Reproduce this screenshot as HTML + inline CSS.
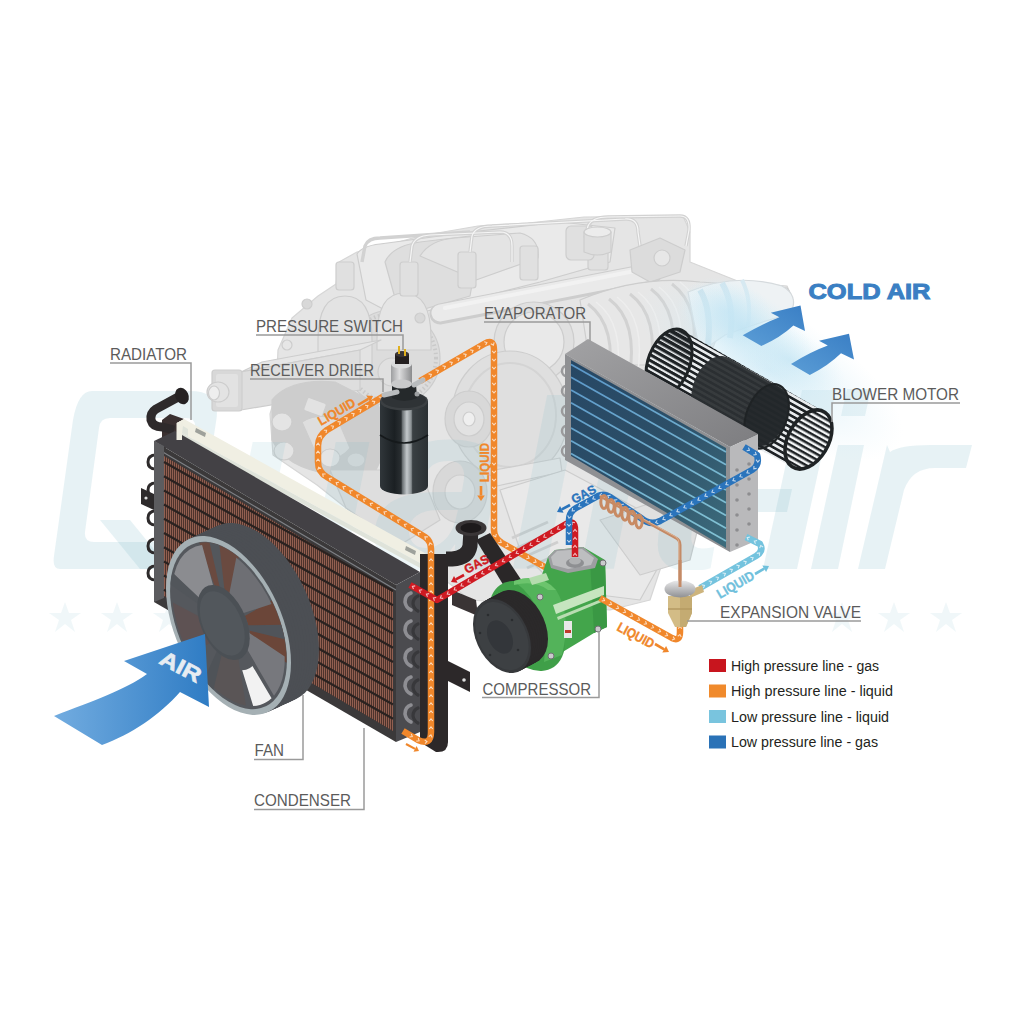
<!DOCTYPE html>
<html><head><meta charset="utf-8">
<style>
html,body{margin:0;padding:0;background:#fff;}
body{width:1024px;height:1024px;overflow:hidden;}
svg{display:block;}
.lbl{font-family:"Liberation Sans",sans-serif;fill:#5b5b5b;font-size:16.5px;}
.leg{font-family:"Liberation Sans",sans-serif;fill:#231f20;font-size:14px;}
.ln{stroke:#9a9a9a;stroke-width:1.5;fill:none;}
</style></head>
<body>
<svg width="1024" height="1024" viewBox="0 0 1024 1024">
<defs>
  <linearGradient id="airg" x1="0" y1="0" x2="1" y2="0">
    <stop offset="0" stop-color="#72ace0"/><stop offset="1" stop-color="#2f7cc4"/>
  </linearGradient>
  <pattern id="core" width="2" height="8" patternUnits="userSpaceOnUse">
    <rect width="2" height="8" fill="#4f352f"/>
    <rect x="0.5" width="1" height="8" fill="#9c6959"/>
  </pattern>
  <linearGradient id="evtop" x1="0" y1="0" x2="1" y2="1">
    <stop offset="0" stop-color="#a2a2a4"/><stop offset="1" stop-color="#7d7d80"/>
  </linearGradient>
  <linearGradient id="evfront" x1="0" y1="0" x2="1" y2="1">
    <stop offset="0" stop-color="#274764"/><stop offset="0.5" stop-color="#2c4f68"/><stop offset="1" stop-color="#3d6c7c"/>
  </linearGradient>
  <pattern id="slats" width="6" height="5.2" patternUnits="userSpaceOnUse" patternTransform="rotate(29.3)">
    <rect width="6" height="5.2" fill="#e9ecee"/><rect width="6" height="2.6" fill="#1e2225"/>
  </pattern>
  <pattern id="slats2" width="6" height="5" patternUnits="userSpaceOnUse" patternTransform="rotate(29.3)">
    <rect width="6" height="2.5" fill="#1e2225"/>
  </pattern>
  <linearGradient id="drierg" x1="0" y1="0" x2="1" y2="0">
    <stop offset="0" stop-color="#30363a"/><stop offset="0.3" stop-color="#1b2023"/><stop offset="0.44" stop-color="#2a2f32"/>
    <stop offset="0.47" stop-color="#6d7376"/><stop offset="0.56" stop-color="#c3c8cb"/><stop offset="0.65" stop-color="#8a9093"/><stop offset="0.68" stop-color="#3a4043"/><stop offset="1" stop-color="#2b3033"/>
  </linearGradient>
  <linearGradient id="swg" x1="0" y1="0" x2="1" y2="0">
    <stop offset="0" stop-color="#9d9ea0"/><stop offset="0.4" stop-color="#dcdcdd"/><stop offset="1" stop-color="#8a8b8d"/>
  </linearGradient>
  <linearGradient id="valveg" x1="0" y1="0" x2="0" y2="1">
    <stop offset="0" stop-color="#e9e9ea"/><stop offset="1" stop-color="#8f9093"/>
  </linearGradient>
  <radialGradient id="hazeg">
    <stop offset="0" stop-color="#bfe3f3" stop-opacity="0.85"/><stop offset="1" stop-color="#d8eff8" stop-opacity="0"/>
  </radialGradient>
  <linearGradient id="coldg" x1="0" y1="1" x2="1" y2="0">
    <stop offset="0" stop-color="#5b9dd6"/><stop offset="1" stop-color="#3a7fc5"/>
  </linearGradient>
  <linearGradient id="evline" gradientUnits="userSpaceOnUse" x1="571" y1="360" x2="650" y2="548">
    <stop offset="0" stop-color="#5a96c9"/><stop offset="1" stop-color="#80c0d3"/>
  </linearGradient>
</defs>
<rect width="1024" height="1024" fill="#fff"/>
<g id="watermark" fill="#6fb3c2" fill-opacity="0.17">
  <path fill-rule="evenodd" d="M92,391 L190,391 Q222,391 216,422 L198,540 Q193,569 162,569 L120,569 L148,569 L60,569 Q52,569 54,556 L73,420 Q78,391 92,391 Z M110,418 Q100,418 99,428 L85,532 Q84,542 94,542 L170,542 Q180,542 181,532 L195,428 Q196,418 186,418 Z"/>
  <polygon points="100,520 130,520 170,569 140,569"/>
  <polygon points="763,569 797,569 836,390 802,390"/><polygon points="735,489 792,489 787,512 730,512"/>
  <polygon points="811,569 838,569 864,445 838,445"/>
  <polygon points="847,389 871,389 865,416 841,416"/>
  <path d="M858,569 L885,569 L904,490 Q912,468 935,468 L966,468 L972,445 L930,445 Q900,445 890,452 L887,445 Z"/>
  <g font-family="Liberation Sans" font-size="40">
  </g>
  <g fill-opacity="0.1" transform="translate(0,2)">
    <path id="star" d="M65,600 L69,611 L81,611 L71,618 L75,630 L65,622 L55,630 L59,618 L49,611 L61,611 Z"/>
    <use href="#star" x="52"/><use href="#star" x="104"/>
    <use href="#star" x="777"/><use href="#star" x="829"/><use href="#star" x="881"/>
  </g>
</g>

<!-- ENGINE -->
<g id="engine" stroke="#cdcdcd" stroke-width="1.2" stroke-linejoin="round">
  <!-- silhouette -->
  <path d="M276,394 L278,350 L292,318 L318,296 L336,284 L339,262 L357,252 L384,246 L420,236 L478,226 L528,223 L584,217 L683,216 L690,232 L690,262 L740,282 L787,286 L793,300 L786,314 L745,320 L720,330 L700,380 L665,555 L650,600 L610,610 L470,600 L420,560 L346,508 L317,485 L273,455 L270,414 Z" fill="#e5e5e5" stroke="#d6d6d6"/>
  <!-- head cover -->
  <path d="M357,254 Q362,246 380,244 L470,232 L560,222 L615,228 L610,262 L540,282 L470,300 L400,318 L366,300 Z" fill="#eaeaea"/>
  <path d="M385,262 Q392,246 420,242 L470,236 Q478,240 476,262 L470,296 L400,316 Z" fill="#dedede"/>
  <path d="M420,256 Q430,240 455,238 L520,233 Q540,238 538,258 L476,280 Z" fill="#e4e4e4"/>
  <!-- cam housings and gear -->
  <circle cx="392" cy="358" r="48" fill="#dcdcdc"/>
  <circle cx="392" cy="358" r="44" fill="none" stroke="#c9c9c9" stroke-width="4" stroke-dasharray="1.5 2.6"/>
  <path d="M318,340 Q318,296 345,296 Q372,296 372,340 L372,370 L318,370 Z" fill="#e3e3e3"/>
  <path d="M377,338 Q377,293 404,293 Q431,293 431,338 L431,350 L377,350 Z" fill="#e5e5e5"/>
  <circle cx="307" cy="304" r="5" fill="#d8d8d8"/>
  <circle cx="420" cy="318" r="5" fill="#d8d8d8"/>
  <circle cx="392" cy="372" r="14" fill="#e0e0e0"/>
  <!-- fuel rail -->
  <path d="M440,314 L652,273" stroke="#cdcdcd" stroke-width="21" stroke-linecap="round"/>
  <path d="M440,313 L652,272" stroke="#eaeaea" stroke-width="17" stroke-linecap="round"/>
  <path d="M445,308 L650,268" stroke="#f2f2f2" stroke-width="4" stroke-linecap="round"/>
  <!-- injectors -->
  <g fill="#e0e0e0">
    <rect x="336" y="262" width="18" height="28" rx="3"/>
    <rect x="400" y="262" width="18" height="34" rx="3"/>
    <rect x="458" y="252" width="18" height="36" rx="3"/>
    <rect x="520" y="246" width="18" height="34" rx="3"/>
    <rect x="588" y="238" width="20" height="32" rx="3"/>
    <rect x="566" y="226" width="28" height="34" rx="5"/>
  </g>
  <!-- injector pipes -->
  <g fill="none" stroke="#d2d2d2" stroke-width="3.4">
    <path d="M362,262 L365,246 Q368,238 380,238 L470,232"/>
    <path d="M410,262 L412,246 Q415,236 430,235 L500,232 Q512,232 512,246 L512,262"/>
    <path d="M470,252 L472,236 Q475,226 492,226 L625,219 Q638,218 638,232 L640,246"/>
    <path d="M585,238 L588,226 Q592,217 608,217 L680,216 Q690,216 689,230 L686,246"/>
  </g>
  <g fill="none" stroke="#f6f6f6" stroke-width="1.2">
    <path d="M410,262 L412,246 Q415,236 430,235 L500,232 Q512,232 512,246 L512,262"/>
    <path d="M470,252 L472,236 Q475,226 492,226 L625,219 Q638,218 638,232 L640,246"/>
    <path d="M585,238 L588,226 Q592,217 608,217 L680,216 Q690,216 689,230 L686,246"/>
  </g>
  <!-- pump top right -->
  <path d="M584,232 L584,252 Q597,258 611,252 L611,232 Z" fill="#dedede"/>
  <ellipse cx="597.5" cy="232" rx="13.5" ry="5" fill="#ececec"/>
  <path d="M630,250 L660,238 L685,250 L680,272 L650,282 L632,272 Z" fill="#dcdcdc"/>
  <circle cx="662" cy="258" r="8" fill="#e7e7e7"/>
  <!-- intake manifold runners -->
  <path d="M580,300 Q640,275 700,282 L787,288 Q797,300 785,313 L720,318 Q680,340 665,365 L590,365 Z" fill="#e7e7e7"/>
  <g fill="none" stroke="#d2d2d2" stroke-width="3"><path d="M588,304 q30,22 20,80" /><path d="M609,299 q30,22 20,80" /><path d="M630,294 q30,22 20,80" /><path d="M651,289 q30,22 20,80" /><path d="M672,284 q30,22 20,80" /></g><g fill="none" stroke="#eeeeee" stroke-width="1.5"><path d="M596,302 q30,22 20,80" /><path d="M617,297 q30,22 20,80" /><path d="M638,292 q30,22 20,80" /><path d="M659,287 q30,22 20,80" /><path d="M680,282 q30,22 20,80" /></g>
  <circle cx="534" cy="342" r="40" fill="#e0e0e0"/>
  <circle cx="534" cy="342" r="30" fill="#e9e9e9"/>
  <!-- left bracket -->
  <polygon points="241,372 262,362 381,340 360,350" fill="#e6e6e6"/>
  <polygon points="241,372 360,350 360,390 241,410" fill="#dedede"/>
  <rect x="212" y="370" width="30" height="41" rx="3" fill="#d8d8d8"/>
  <rect x="216" y="374" width="22" height="33" rx="2" fill="#e2e2e2" stroke="none"/>
  <ellipse cx="218" cy="392" rx="11" ry="10" fill="#e3e3e3"/>
  <ellipse cx="214" cy="393" rx="5.5" ry="7" fill="#eeeeee"/>
  <ellipse cx="287" cy="345" rx="5" ry="5" fill="#e6e6e6"/>
  <!-- front housing with bolts -->
  <path d="M272,400 Q290,378 335,382 L378,404 Q392,440 376,470 L330,474 Q286,468 272,440 Z" fill="#cdcdcd"/>
  <path d="M302,422 Q318,412 338,420 L350,448 Q340,462 318,458 Z" fill="#dedede"/>
  <rect x="305" y="400" width="20" height="14" rx="2" fill="#e2e2e2" transform="rotate(20 315 407)"/>
  <ellipse cx="356" cy="460" rx="9" ry="7" fill="#dbdbdb"/>
  <ellipse cx="282" cy="422" rx="10" ry="9" fill="#e4e4e4"/>
  <ellipse cx="284" cy="451" rx="10" ry="9" fill="#e4e4e4"/>
  <ellipse cx="330" cy="458" rx="10" ry="9" fill="#e4e4e4"/>
  
  <!-- pulleys lower middle -->
  <ellipse cx="510" cy="415" rx="58" ry="64" fill="#dfdfdf"/>
  <ellipse cx="510" cy="415" rx="46" ry="52" fill="none" stroke="#d4d4d4" stroke-width="2"/>
  <ellipse cx="469" cy="419" rx="24" ry="28" fill="#d8d8d8"/>
  <ellipse cx="469" cy="419" rx="15" ry="17" fill="#e2e2e2"/>
  <ellipse cx="469" cy="419" rx="6" ry="7" fill="#efefef"/>
  <path d="M495,470 L560,458 L562,472 L497,486 Z" fill="#e7e7e7"/>
  <ellipse cx="460" cy="492" rx="27" ry="31" fill="#d8d8d8"/>
  <ellipse cx="460" cy="492" rx="15" ry="17" fill="#e2e2e2"/>
  <!-- lower block -->
  <path d="M500,490 L565,470 L640,510 L665,555 L640,600 L560,590 L520,550 Z" fill="#e9e9e9"/>
  <g fill="none" stroke="#cfcfcf" stroke-width="3">
    <path d="M512,538 L548,522"/><path d="M517,548 L553,532"/><path d="M522,558 L558,542"/><path d="M527,568 L563,552"/>
  </g>
  <path d="M600,520 L660,500 L700,520 L690,560 L640,575 Z" fill="#e0e0e0"/>
  <path d="M330,470 L420,470 L440,520 L400,545 L346,508 Z" fill="#dedede"/>
</g>

<g id="intake">
  <path d="M688,292 Q735,272 782,286 Q800,296 790,314 Q760,322 725,335 L700,352 Z" fill="#eef2f4" stroke="#d5dadd" stroke-width="1.2"/>
  <path d="M700,290 Q712,310 708,345" stroke="#c9dfe9" stroke-width="6" fill="none"/>
  <path d="M722,283 Q735,305 730,338" stroke="#cfe4ee" stroke-width="6" fill="none"/>
  <path d="M742,280 Q752,300 748,326" stroke="#d7e9f1" stroke-width="4" fill="none"/>
</g>
<g id="haze">
  <ellipse cx="728" cy="312" rx="48" ry="34" transform="rotate(20 728 312)" fill="url(#hazeg)" opacity="0.9"/>
  <ellipse cx="770" cy="370" rx="150" ry="60" transform="rotate(30 770 370)" fill="url(#hazeg)" opacity="0.75"/>
  <ellipse cx="745" cy="330" rx="75" ry="40" transform="rotate(28 745 330)" fill="url(#hazeg)"/>
  <ellipse cx="790" cy="360" rx="60" ry="30" transform="rotate(28 790 360)" fill="url(#hazeg)" opacity="0.7"/>
</g>
<g id="coldarrows" fill="url(#coldg)">
  <path d="M742.7,335.3 Q762,324 779.4,317.3 L770.8,312.7 L800.5,305.6 L805,331 L793.4,325.6 Q780,338 761.4,346 Z"/>
  <path d="M791,364 Q810,352 827.8,345.5 L819,340.8 L849,333.75 L854,359.5 L841,353.3 Q828,366 809.8,375 Z"/>
</g>
<clipPath id="wmclip"><rect x="0" y="380" width="1024" height="190"/></clipPath>
<g id="watermark2" fill="#6fb3c2" fill-opacity="0.12" clip-path="url(#wmclip)"><text x="225" y="569" textLength="500" lengthAdjust="spacingAndGlyphs" style="font-family:'Liberation Sans',sans-serif;font-weight:bold;font-style:italic;font-size:240px">ualit</text></g>
<!-- CONDENSER -->
<g id="condenser">
  <!-- radiator top strip -->
  <polygon points="162,420 170,414 184,419 177,423 177,443 162,450" fill="#3a3030"/>
  <polygon points="177,423 184,419 430,556 426,561 426,576 420,573 420,563 182,433 182,440 177,440" fill="#f0efe3"/>
  <polygon points="182,433 420,563 420,568 182,438" fill="#dfe3da"/>
  <polygon points="196,428 206,433 205,437 195,432" fill="#9ea19b"/>
  <polygon points="406,546 416,551 415,555 405,550" fill="#9ea19b"/>
  <!-- radiator hose top-left -->
  <path d="M180,396 L156,409 Q150,413 151,420 Q153,427 162,427 L174,430" stroke="#2e2a2b" stroke-width="9" fill="none"/>
  <ellipse cx="182" cy="396" rx="6.5" ry="8.5" fill="#252223" transform="rotate(-25 182 396)"/>
  
  <!-- left coils -->
  <g stroke="#2d2a2b" stroke-width="3" fill="none"><path d="M156,455 q-8,0 -8,7 q0,7 8,7"/><path d="M156,483 q-8,0 -8,7 q0,7 8,7"/><path d="M156,511 q-8,0 -8,7 q0,7 8,7"/><path d="M156,539 q-8,0 -8,7 q0,7 8,7"/><path d="M156,566 q-8,0 -8,7 q0,7 8,7"/></g>
  <polygon points="141,488 154,494 154,510 141,504" fill="#2d2a2b"/>
  <circle cx="146" cy="498" r="1.6" fill="#ddd"/>
  <!-- frame -->
  <polygon points="154,441 175,431 420,572 396,585" fill="#434145"/>
  <polygon points="154,441 396,585 396,742 154,602" fill="#3b393a"/>
  <line x1="156" y1="448" x2="396" y2="590" stroke="#7e8085" stroke-width="1.2"/>
  <polygon points="176.5,423 183,420 183,426 182,433 182,440 176.5,440" fill="#efeee2"/><polygon points="182,433 183,426 188,429 188,436" fill="#dfe3da"/>
  <polygon points="154,441 164,446 164,598 154,602" fill="#5c5c5f"/>
  <polygon points="396,585 420,572 420,732 396,742" fill="#4b4b4f"/>
  <!-- core -->
  <clipPath id="coreclip"><polygon points="164,456 393,592 393,731 164,596"/></clipPath>
  <polygon points="164,456 393,592 393,731 164,596" fill="#4d332c"/>
  <path clip-path="url(#coreclip)" d="M164.5,440V750M166.5,440V750M168.5,440V750M170.5,440V750M172.5,440V750M174.5,440V750M176.5,440V750M178.5,440V750M180.5,440V750M182.5,440V750M184.5,440V750M186.5,440V750M188.5,440V750M190.5,440V750M192.5,440V750M194.5,440V750M196.5,440V750M198.5,440V750M200.5,440V750M202.5,440V750M204.5,440V750M206.5,440V750M208.5,440V750M210.5,440V750M212.5,440V750M214.5,440V750M216.5,440V750M218.5,440V750M220.5,440V750M222.5,440V750M224.5,440V750M226.5,440V750M228.5,440V750M230.5,440V750M232.5,440V750M234.5,440V750M236.5,440V750M238.5,440V750M240.5,440V750M242.5,440V750M244.5,440V750M246.5,440V750M248.5,440V750M250.5,440V750M252.5,440V750M254.5,440V750M256.5,440V750M258.5,440V750M260.5,440V750M262.5,440V750M264.5,440V750M266.5,440V750M268.5,440V750M270.5,440V750M272.5,440V750M274.5,440V750M276.5,440V750M278.5,440V750M280.5,440V750M282.5,440V750M284.5,440V750M286.5,440V750M288.5,440V750M290.5,440V750M292.5,440V750M294.5,440V750M296.5,440V750M298.5,440V750M300.5,440V750M302.5,440V750M304.5,440V750M306.5,440V750M308.5,440V750M310.5,440V750M312.5,440V750M314.5,440V750M316.5,440V750M318.5,440V750M320.5,440V750M322.5,440V750M324.5,440V750M326.5,440V750M328.5,440V750M330.5,440V750M332.5,440V750M334.5,440V750M336.5,440V750M338.5,440V750M340.5,440V750M342.5,440V750M344.5,440V750M346.5,440V750M348.5,440V750M350.5,440V750M352.5,440V750M354.5,440V750M356.5,440V750M358.5,440V750M360.5,440V750M362.5,440V750M364.5,440V750M366.5,440V750M368.5,440V750M370.5,440V750M372.5,440V750M374.5,440V750M376.5,440V750M378.5,440V750M380.5,440V750M382.5,440V750M384.5,440V750M386.5,440V750M388.5,440V750M390.5,440V750M392.5,440V750" stroke="#925f50" stroke-width="1"/>
  <g id="tubes" stroke="#2a2220" stroke-width="2.3"><line x1="164" y1="462.0" x2="393" y2="591.0"/><line x1="164" y1="476.2" x2="393" y2="605.2"/><line x1="164" y1="490.4" x2="393" y2="619.4"/><line x1="164" y1="504.6" x2="393" y2="633.6"/><line x1="164" y1="518.8" x2="393" y2="647.8"/><line x1="164" y1="533.0" x2="393" y2="662.0"/><line x1="164" y1="547.2" x2="393" y2="676.2"/><line x1="164" y1="561.4" x2="393" y2="690.4"/><line x1="164" y1="575.6" x2="393" y2="704.6"/><line x1="164" y1="589.8" x2="393" y2="718.8"/></g>
  <!-- side coils -->
  <g fill="none" stroke-linecap="round"><path d="M411,593 q-6,2 -6,9 q1,6 6,8" stroke="#8e8e93" stroke-width="3.6"/><path d="M418,596 q-5,2 -5,8 q1,5 5,7" stroke="#38383b" stroke-width="3.2"/><path d="M411,621 q-6,2 -6,9 q1,6 6,8" stroke="#8e8e93" stroke-width="3.6"/><path d="M418,624 q-5,2 -5,8 q1,5 5,7" stroke="#38383b" stroke-width="3.2"/><path d="M411,649 q-6,2 -6,9 q1,6 6,8" stroke="#8e8e93" stroke-width="3.6"/><path d="M418,652 q-5,2 -5,8 q1,5 5,7" stroke="#38383b" stroke-width="3.2"/><path d="M411,677 q-6,2 -6,9 q1,6 6,8" stroke="#8e8e93" stroke-width="3.6"/><path d="M418,680 q-5,2 -5,8 q1,5 5,7" stroke="#38383b" stroke-width="3.2"/><path d="M411,705 q-6,2 -6,9 q1,6 6,8" stroke="#8e8e93" stroke-width="3.6"/><path d="M418,708 q-5,2 -5,8 q1,5 5,7" stroke="#38383b" stroke-width="3.2"/></g>
  <!-- radiator right tank & bracket -->
  <path d="M420,554 L448,554 L448,742 Q448,753 436,752 L420,742 Z" fill="#2c2829"/>
  <polygon points="446,660 470,672 470,692 446,680" fill="#2c2829"/>
  <circle cx="464" cy="680" r="1.8" fill="#ddd"/>
</g>

<g id="blower">
  <clipPath id="bclip"><ellipse transform="matrix(23.00,-11.00,0,31.60,669.00,362.50)" rx="1" ry="1"/><ellipse transform="matrix(23.02,-11.00,0,31.46,673.65,365.07)" rx="1" ry="1"/><ellipse transform="matrix(23.03,-11.00,0,31.32,678.30,367.63)" rx="1" ry="1"/><ellipse transform="matrix(23.05,-11.00,0,31.18,682.95,370.20)" rx="1" ry="1"/><ellipse transform="matrix(23.07,-11.00,0,31.04,687.60,372.77)" rx="1" ry="1"/><ellipse transform="matrix(23.08,-11.00,0,30.90,692.25,375.33)" rx="1" ry="1"/><ellipse transform="matrix(23.10,-11.00,0,30.76,696.90,377.90)" rx="1" ry="1"/><ellipse transform="matrix(23.12,-11.00,0,30.62,701.55,380.47)" rx="1" ry="1"/><ellipse transform="matrix(23.13,-11.00,0,30.48,706.20,383.03)" rx="1" ry="1"/><ellipse transform="matrix(23.15,-11.00,0,30.34,710.85,385.60)" rx="1" ry="1"/><ellipse transform="matrix(23.17,-11.00,0,30.20,715.50,388.17)" rx="1" ry="1"/><ellipse transform="matrix(23.18,-11.00,0,30.06,720.15,390.73)" rx="1" ry="1"/><ellipse transform="matrix(23.20,-11.00,0,29.92,724.80,393.30)" rx="1" ry="1"/><ellipse transform="matrix(23.22,-11.00,0,29.78,729.45,395.87)" rx="1" ry="1"/><ellipse transform="matrix(23.23,-11.00,0,29.64,734.10,398.43)" rx="1" ry="1"/><ellipse transform="matrix(23.25,-11.00,0,29.50,738.75,401.00)" rx="1" ry="1"/><ellipse transform="matrix(23.27,-11.00,0,29.36,743.40,403.57)" rx="1" ry="1"/><ellipse transform="matrix(23.28,-11.00,0,29.22,748.05,406.13)" rx="1" ry="1"/><ellipse transform="matrix(23.30,-11.00,0,29.08,752.70,408.70)" rx="1" ry="1"/><ellipse transform="matrix(23.32,-11.00,0,28.94,757.35,411.27)" rx="1" ry="1"/><ellipse transform="matrix(23.33,-11.00,0,28.80,762.00,413.83)" rx="1" ry="1"/><ellipse transform="matrix(23.35,-11.00,0,28.66,766.65,416.40)" rx="1" ry="1"/><ellipse transform="matrix(23.37,-11.00,0,28.52,771.30,418.97)" rx="1" ry="1"/><ellipse transform="matrix(23.38,-11.00,0,28.38,775.95,421.53)" rx="1" ry="1"/><ellipse transform="matrix(23.40,-11.00,0,28.24,780.60,424.10)" rx="1" ry="1"/><ellipse transform="matrix(23.42,-11.00,0,28.10,785.25,426.67)" rx="1" ry="1"/><ellipse transform="matrix(23.43,-11.00,0,27.96,789.90,429.23)" rx="1" ry="1"/><ellipse transform="matrix(23.45,-11.00,0,27.82,794.55,431.80)" rx="1" ry="1"/><ellipse transform="matrix(23.47,-11.00,0,27.68,799.20,434.37)" rx="1" ry="1"/><ellipse transform="matrix(23.48,-11.00,0,27.54,803.85,436.93)" rx="1" ry="1"/><ellipse transform="matrix(23.50,-11.00,0,27.40,808.50,439.50)" rx="1" ry="1"/></clipPath>
  <rect x="630" y="310" width="220" height="180" fill="url(#slats)" clip-path="url(#bclip)"/>
  <g opacity="0.94"><ellipse transform="matrix(22.47,-10.67,0,29.35,713.64,387.14)" rx="1" ry="1" fill="#2c3033"/><ellipse transform="matrix(22.47,-10.67,0,29.27,716.29,388.60)" rx="1" ry="1" fill="#2c3033"/><ellipse transform="matrix(22.48,-10.67,0,29.19,718.94,390.07)" rx="1" ry="1" fill="#2c3033"/><ellipse transform="matrix(22.49,-10.67,0,29.12,721.59,391.53)" rx="1" ry="1" fill="#2c3033"/><ellipse transform="matrix(22.50,-10.67,0,29.04,724.24,392.99)" rx="1" ry="1" fill="#2c3033"/><ellipse transform="matrix(22.51,-10.67,0,28.96,726.89,394.45)" rx="1" ry="1" fill="#2c3033"/><ellipse transform="matrix(22.52,-10.67,0,28.88,729.54,395.92)" rx="1" ry="1" fill="#2c3033"/><ellipse transform="matrix(22.53,-10.67,0,28.81,732.19,397.38)" rx="1" ry="1" fill="#2c3033"/><ellipse transform="matrix(22.54,-10.67,0,28.73,734.84,398.84)" rx="1" ry="1" fill="#2c3033"/><ellipse transform="matrix(22.55,-10.67,0,28.65,737.49,400.31)" rx="1" ry="1" fill="#2c3033"/><ellipse transform="matrix(22.56,-10.67,0,28.57,740.14,401.77)" rx="1" ry="1" fill="#2c3033"/><ellipse transform="matrix(22.57,-10.67,0,28.50,742.80,403.23)" rx="1" ry="1" fill="#2c3033"/><ellipse transform="matrix(22.58,-10.67,0,28.42,745.45,404.70)" rx="1" ry="1" fill="#2c3033"/><ellipse transform="matrix(22.58,-10.67,0,28.34,748.10,406.16)" rx="1" ry="1" fill="#2c3033"/><ellipse transform="matrix(22.59,-10.67,0,28.26,750.75,407.62)" rx="1" ry="1" fill="#2c3033"/><ellipse transform="matrix(22.60,-10.67,0,28.19,753.40,409.08)" rx="1" ry="1" fill="#2c3033"/><ellipse transform="matrix(22.61,-10.67,0,28.11,756.05,410.55)" rx="1" ry="1" fill="#2c3033"/><ellipse transform="matrix(22.62,-10.67,0,28.03,758.70,412.01)" rx="1" ry="1" fill="#2c3033"/><ellipse transform="matrix(22.63,-10.67,0,27.96,761.35,413.47)" rx="1" ry="1" fill="#2c3033"/><ellipse transform="matrix(22.64,-10.67,0,27.88,764.00,414.94)" rx="1" ry="1" fill="#2c3033"/><ellipse transform="matrix(22.65,-10.67,0,27.80,766.65,416.40)" rx="1" ry="1" fill="#2c3033"/></g>
  <ellipse transform="matrix(22.3,-10.7,0,30.5,766.6,416.4)" rx="1" ry="1" fill="#1f2326" opacity="0.7"/><ellipse transform="matrix(22.3,-10.7,0,30.5,766.6,416.4)" rx="1" ry="1" fill="none" stroke="#1f2325" stroke-width="2" vector-effect="non-scaling-stroke"/>
  <g clip-path="url(#lend)"><rect x="630" y="310" width="80" height="100" fill="url(#slats2)"/></g>
  <clipPath id="lend"><ellipse transform="matrix(23,-11,0,31.6,669,362.5)" rx="1" ry="1"/></clipPath>
  <ellipse transform="matrix(23,-11,0,31.6,669,362.5)" rx="1" ry="1" fill="none" stroke="#1f2325" stroke-width="3" vector-effect="non-scaling-stroke"/>
  <clipPath id="rend"><ellipse transform="matrix(23.5,-11,0,27.4,808.5,439.5)" rx="1" ry="1"/></clipPath>
  <g clip-path="url(#rend)"><rect x="770" y="400" width="80" height="80" fill="#f4f6f7"/><rect x="770" y="400" width="80" height="80" fill="url(#slats2)"/></g>
  <ellipse transform="matrix(23.5,-11,0,27.4,808.5,439.5)" rx="1" ry="1" fill="none" stroke="#1f2325" stroke-width="3.5" vector-effect="non-scaling-stroke"/>
</g>
<g id="evap">
  <!-- left coils -->
  <g stroke="#9a9a9c" stroke-width="2.5" fill="none">
    <path d="M566,366 a4,5 0 1 0 0,10"/><path d="M566,386 a4,5 0 1 0 0,10"/>
    <path d="M566,406 a4,5 0 1 0 0,10"/><path d="M566,426 a4,5 0 1 0 0,10"/>
    <path d="M566,446 a4,5 0 1 0 0,10"/>
  </g>
  <polygon points="565,354 588,339 758,434 730,447" fill="url(#evtop)"/>
  <polygon points="730,447 758,434 758,540 730,552" fill="#b9b9bb"/>
  <polygon points="565,354 730,447 730,552 565,460" fill="#8f9093"/>
  <polygon points="571,360 726,448 726,548 571,456" fill="url(#evfront)"/>
  <g stroke="url(#evline)" stroke-width="1.7"><line x1="571" y1="364.6" x2="726" y2="452.0"/><line x1="571" y1="377.3" x2="726" y2="464.7"/><line x1="571" y1="390.0" x2="726" y2="477.4"/><line x1="571" y1="402.7" x2="726" y2="490.1"/><line x1="571" y1="415.4" x2="726" y2="502.8"/><line x1="571" y1="428.1" x2="726" y2="515.5"/><line x1="571" y1="440.8" x2="726" y2="528.2"/><line x1="571" y1="453.5" x2="726" y2="540.9"/></g>
  <g fill="#8d8d90">
    <circle cx="737" cy="470" r="1.8"/><circle cx="749" cy="464" r="1.8"/>
    <circle cx="737" cy="485" r="1.8"/><circle cx="749" cy="479" r="1.8"/>
    <circle cx="737" cy="500" r="1.8"/><circle cx="749" cy="494" r="1.8"/>
    <circle cx="737" cy="515" r="1.8"/><circle cx="749" cy="509" r="1.8"/>
    <circle cx="737" cy="530" r="1.8"/><circle cx="749" cy="524" r="1.8"/>
    <circle cx="737" cy="545" r="1.8"/><circle cx="749" cy="539" r="1.8"/>
  </g>
</g>
<g id="pipes_back"><path d="M420,381 L484,344 Q494,338 494,350 L494,530 Q494,538 502,543 L552,571" stroke="#f0872b" stroke-width="6.5" fill="none" stroke-linejoin="round"/><path d="M423.5,381.1L424.5,378.4L421.7,377.9M430.4,377.1L431.4,374.4L428.6,373.9M437.3,373.0L438.4,370.4L435.5,369.9M444.3,369.0L445.3,366.4L442.5,365.9M451.2,365.0L452.2,362.4L449.4,361.9M458.1,361.0L459.1,358.4L456.3,357.9M465.1,357.0L466.1,354.4L463.3,353.9M472.0,353.0L473.0,350.4L470.2,349.9M478.9,349.0L479.9,346.4L477.1,345.9M485.6,345.1L486.9,342.5L484.2,341.8M490.8,343.8L493.4,345.1L494.1,342.3M492.2,350.8L494.0,353.0L495.8,350.8M492.2,358.8L494.0,361.0L495.8,358.8M492.2,366.8L494.0,369.0L495.8,366.8M492.2,374.8L494.0,377.0L495.8,374.8M492.2,382.8L494.0,385.0L495.8,382.8M492.2,390.8L494.0,393.0L495.8,390.8M492.2,398.8L494.0,401.0L495.8,398.8M492.2,406.8L494.0,409.0L495.8,406.8M492.2,414.8L494.0,417.0L495.8,414.8M492.2,422.8L494.0,425.0L495.8,422.8M492.2,430.8L494.0,433.0L495.8,430.8M492.2,438.8L494.0,441.0L495.8,438.8M492.2,446.8L494.0,449.0L495.8,446.8M492.2,454.8L494.0,457.0L495.8,454.8M492.2,462.8L494.0,465.0L495.8,462.8M492.2,470.8L494.0,473.0L495.8,470.8M492.2,478.8L494.0,481.0L495.8,478.8M492.2,486.8L494.0,489.0L495.8,486.8M492.2,494.8L494.0,497.0L495.8,494.8M492.2,502.8L494.0,505.0L495.8,502.8M492.2,510.8L494.0,513.0L495.8,510.8M492.2,518.8L494.0,521.0L495.8,518.8M492.2,526.8L494.0,529.0L495.8,526.8M493.1,535.6L495.7,536.8L496.3,534.0M498.4,542.6L501.2,542.5L500.5,539.7M505.3,546.9L508.1,546.4L507.1,543.8M512.3,550.8L515.1,550.3L514.1,547.7M519.3,554.8L522.1,554.3L521.1,551.6M526.3,558.7L529.1,558.2L528.0,555.5M533.3,562.6L536.1,562.1L535.0,559.4M540.2,566.5L543.0,566.0L542.0,563.3M547.2,570.4L550.0,569.9L549.0,567.2" stroke="#fff" stroke-opacity="0.7" stroke-width="1.1" fill="none"/><path d="M384,396 L327,430 Q318,436 318,446 L318,462 Q318,472 327,477 L425,537 Q431,541 431,549 L431,732 Q431,746 418,740 L403,731" stroke="#f0872b" stroke-width="6.5" fill="none" stroke-linejoin="round"/><path d="M380.6,400.1L381.6,397.4L378.8,397.0M373.8,404.2L374.7,401.5L371.9,401.1M366.9,408.3L367.9,405.6L365.0,405.2M360.0,412.4L361.0,409.7L358.2,409.3M353.1,416.5L354.1,413.8L351.3,413.4M346.3,420.6L347.2,417.9L344.4,417.5M339.4,424.7L340.4,422.0L337.6,421.6M332.5,428.8L333.5,426.1L330.7,425.7M326.0,433.0L326.6,430.2L323.8,430.2M321.5,438.6L320.9,435.8L318.3,436.9M319.8,445.5L318.1,443.2L316.2,445.3M319.8,453.4L318.0,451.2L316.2,453.4M319.8,461.4L318.0,459.2L316.2,461.4M321.1,468.5L318.6,467.2L317.8,469.9M325.6,474.0L322.7,474.0L323.3,476.8M332.2,478.1L329.4,478.5L330.3,481.1M339.0,482.2L336.2,482.6L337.1,485.3M345.8,486.4L343.0,486.8L344.0,489.5M352.7,490.6L349.8,491.0L350.8,493.7M359.5,494.8L356.7,495.2L357.6,497.8M366.3,498.9L363.5,499.3L364.4,502.0M373.1,503.1L370.3,503.5L371.2,506.2M379.9,507.3L377.1,507.7L378.1,510.4M386.8,511.5L384.0,511.9L384.9,514.6M393.6,515.7L390.8,516.0L391.7,518.7M400.4,519.8L397.6,520.2L398.5,522.9M407.2,524.0L404.4,524.4L405.4,527.1M414.1,528.2L411.2,528.6L412.2,531.3M420.9,532.4L418.1,532.8L419.0,535.4M427.8,536.9L424.9,536.9L425.5,539.6M432.3,544.6L430.0,542.9L428.8,545.5M432.8,553.0L431.0,550.8L429.2,553.0M432.8,561.0L431.0,558.8L429.2,561.0M432.8,569.0L431.0,566.8L429.2,569.0M432.8,577.0L431.0,574.8L429.2,577.0M432.8,585.0L431.0,582.8L429.2,585.0M432.8,593.0L431.0,590.8L429.2,593.0M432.8,601.0L431.0,598.8L429.2,601.0M432.8,609.0L431.0,606.8L429.2,609.0M432.8,617.0L431.0,614.8L429.2,617.0M432.8,625.0L431.0,622.8L429.2,625.0M432.8,633.0L431.0,630.8L429.2,633.0M432.8,641.0L431.0,638.8L429.2,641.0M432.8,649.0L431.0,646.8L429.2,649.0M432.8,657.0L431.0,654.8L429.2,657.0M432.8,665.0L431.0,662.8L429.2,665.0M432.8,673.0L431.0,670.8L429.2,673.0M432.8,681.0L431.0,678.8L429.2,681.0M432.8,689.0L431.0,686.8L429.2,689.0M432.8,697.0L431.0,694.8L429.2,697.0M432.8,705.0L431.0,702.8L429.2,705.0M432.8,713.0L431.0,710.8L429.2,713.0M432.8,721.0L431.0,718.8L429.2,721.0M432.8,729.0L431.0,726.8L429.2,729.0M432.2,737.4L430.9,734.9L428.7,736.6M425.0,743.6L427.0,741.6L424.7,740.0M416.3,741.1L419.1,740.7L418.2,738.0M409.5,737.0L412.3,736.6L411.3,733.9" stroke="#fff" stroke-opacity="0.7" stroke-width="1.1" fill="none"/></g>
<g id="drier">
  <rect x="380" y="401" width="48" height="85" fill="url(#drierg)"/>
  <ellipse cx="404" cy="486" rx="24" ry="8.5" fill="url(#drierg)"/>
  <path d="M380,435 Q404,451 428,435" stroke="#15191b" stroke-width="1.6" fill="none"/>
  <ellipse cx="404" cy="401" rx="24" ry="9.5" fill="#3b3f42"/>
  <ellipse cx="404" cy="400" rx="22" ry="8" fill="#2f3336"/>
  <!-- head -->
  <path d="M392,384 L416,384 L417,398 Q404,404 392,398 Z" fill="#25292b"/>
  <path d="M384,395 L397,392" stroke="#b9bcbe" stroke-width="5" stroke-linecap="round"/>
  <path d="M414,385 L423,380" stroke="#b9bcbe" stroke-width="5" stroke-linecap="round"/>
  <circle cx="417" cy="394" r="2.5" fill="#9da0a2"/>
  <!-- pressure switch -->
  <rect x="391" y="364" width="21" height="20" fill="url(#swg)"/>
  <ellipse cx="401.5" cy="384" rx="10.5" ry="4.5" fill="#c9cacb"/>
  <ellipse cx="401.5" cy="364" rx="10.5" ry="4.5" fill="#d9dadb"/>
  <rect x="395" y="354" width="14" height="10" fill="#231f20"/>
  <ellipse cx="402" cy="354" rx="7" ry="3" fill="#3a3536"/>
  <rect x="398" y="346" width="2" height="8" fill="#e0b020"/>
  <rect x="404" y="349" width="2" height="7" fill="#e0b020"/>
</g>
<g id="hose">
  <path d="M471,530 L470,546 Q468,558 452,559 L446,559" stroke="#2b2829" stroke-width="15" fill="none"/>
  <ellipse cx="471" cy="528" rx="15.5" ry="8" fill="#3a3637"/>
  <ellipse cx="471" cy="528" rx="10.5" ry="5" fill="#1d1a1b"/>
</g>
<g id="compressor">
  <!-- belt -->
  <polygon points="476,540 490,533 532,596 516,606" fill="#2a2728"/>
  <polygon points="452,590 476,600 478,616 452,605" fill="#3a3435"/>
  <!-- green body -->
  <path d="M548,557 L555,550 L583,547 L605,560 L607,627 L594,633 L556,656 L540,662 L520,640 Z" fill="#43a54b"/>
  <path d="M590,560 L605,560 L607,627 L594,633 Z" fill="#3a9844"/>
  <ellipse transform="matrix(38,16,0,42,527,626)" rx="1" ry="1" fill="#3f9f48"/>
  <path d="M514,581 Q540,572 556,590 Q572,615 562,655 L544,662 Q552,610 514,581 Z" fill="#53b35a"/>
  <path d="M514,581 Q540,572 556,590 L548,590 Q535,580 514,585 Z" fill="#6cc46d"/>
  <polygon points="553,605 604,586 604,595 556,614" fill="#c6e5bf"/>
  <polygon points="557,617 604,598 604,601 558,620" fill="#b9ddb2"/>
  <polygon points="529,578 546,573 549,580 532,585" fill="#b5dcae"/>
  <rect x="564" y="621" width="8" height="17" fill="#e8e8e8"/>
  <rect x="565" y="630" width="6" height="3" fill="#c0392b"/>
  <!-- top plate -->
  <path d="M548,557 L555,550 L583,547 L598,559 L595,568 L568,573 L551,568 Z" fill="#9d9ea1"/>
  <path d="M551,557 L557,551 L582,549 L594,558 L591,565 L568,569 L553,565 Z" fill="#bdbec0"/>
  <ellipse cx="575" cy="563" rx="9" ry="5" fill="#8e8f92"/>
  <ellipse cx="575" cy="561" rx="6" ry="3.5" fill="#b0b1b3"/>
  <!-- bolts -->
  <g fill="#c9cacc" stroke="#6f7073" stroke-width="1">
    <circle cx="603" cy="563" r="3"/><circle cx="540" cy="597" r="3"/>
    <circle cx="598" cy="629" r="3"/><circle cx="551" cy="656" r="3"/>
  </g>
  <!-- pulley -->
  <g><ellipse transform="matrix(29,12,0,35,519.0,627.0)" rx="1" ry="1" fill="#2b292a"/><ellipse transform="matrix(29,12,0,35,516.9,628.1)" rx="1" ry="1" fill="#2b292a"/><ellipse transform="matrix(29,12,0,35,514.8,629.2)" rx="1" ry="1" fill="#2b292a"/><ellipse transform="matrix(29,12,0,35,512.6,630.4)" rx="1" ry="1" fill="#2b292a"/><ellipse transform="matrix(29,12,0,35,510.5,631.5)" rx="1" ry="1" fill="#2b292a"/><ellipse transform="matrix(29,12,0,35,508.4,632.6)" rx="1" ry="1" fill="#2b292a"/><ellipse transform="matrix(29,12,0,35,506.2,633.8)" rx="1" ry="1" fill="#2b292a"/><ellipse transform="matrix(29,12,0,35,504.1,634.9)" rx="1" ry="1" fill="#2b292a"/></g>
  <ellipse transform="matrix(29,12,0,35,502,636)" rx="1" ry="1" fill="#37393c"/>
  <ellipse transform="matrix(29,12,0,35,502,636)" rx="0.92" ry="0.92" fill="#3d4043"/>
  <ellipse transform="matrix(29,12,0,35,500,637)" rx="0.45" ry="0.45" fill="#33363a"/>
  <g fill="#2a2c2f"><circle cx="488" cy="615" r="1.3"/><circle cx="512" cy="620" r="1.3"/><circle cx="518" cy="650" r="1.3"/><circle cx="490" cy="655" r="1.3"/><circle cx="480" cy="633" r="1.3"/></g>
</g>
<g id="pipes_front"><path d="M600,598 L672,638 Q680,642 680,632 L680,620" stroke="#f0872b" stroke-width="6.5" fill="none" stroke-linejoin="round"/><path d="M601.7,601.0L604.5,600.5L603.5,597.9M608.7,604.9L611.5,604.4L610.5,601.8M615.7,608.8L618.5,608.3L617.5,605.7M622.7,612.7L625.5,612.2L624.5,609.5M629.7,616.6L632.5,616.1L631.5,613.4M636.7,620.5L639.5,620.0L638.5,617.3M643.7,624.3L646.5,623.8L645.5,621.2M650.7,628.2L653.5,627.7L652.4,625.1M657.7,632.1L660.5,631.6L659.4,629.0M664.7,636.0L667.5,635.5L666.4,632.8M672.0,640.1L674.6,639.0L673.1,636.6M681.2,637.0L679.9,634.5L677.7,636.3M681.8,628.7L680.0,626.5L678.2,628.7" stroke="#fff" stroke-opacity="0.7" stroke-width="1.1" fill="none"/><path d="M410,585 L437,600 L566,524 Q575,519 575,530 L575,557" stroke="#cf1a22" stroke-width="6.5" fill="none" stroke-linejoin="round"/><path d="M415.2,585.9L412.4,586.4L413.5,589.0M422.2,589.7L419.4,590.2L420.5,592.9M429.2,593.6L426.4,594.1L427.5,596.8M436.2,597.5L433.4,598.0L434.5,600.7M441.4,595.3L440.4,598.0L443.2,598.4M448.2,591.3L447.3,594.0L450.1,594.4M455.1,587.2L454.2,589.9L457.0,590.3M462.0,583.2L461.0,585.8L463.9,586.3M468.9,579.1L467.9,581.8L470.8,582.2M475.8,575.0L474.8,577.7L477.6,578.1M482.7,571.0L481.7,573.6L484.5,574.1M489.6,566.9L488.6,569.6L491.4,570.0M496.5,562.9L495.5,565.5L498.3,566.0M503.4,558.8L502.4,561.5L505.2,561.9M510.3,554.7L509.3,557.4L512.1,557.8M517.2,550.7L516.2,553.3L519.0,553.8M524.1,546.6L523.1,549.3L525.9,549.7M531.0,542.6L530.0,545.2L532.8,545.7M537.9,538.5L536.9,541.2L539.7,541.6M544.7,534.4L543.8,537.1L546.6,537.5M551.6,530.4L550.7,533.0L553.5,533.5M558.5,526.3L557.5,529.0L560.4,529.4M565.5,522.3L564.4,524.9L567.2,525.4M574.9,522.6L572.1,522.3L572.3,525.1M576.8,531.6L575.0,529.4L573.2,531.6M576.8,539.6L575.0,537.4L573.2,539.6M576.8,547.6L575.0,545.4L573.2,547.6M576.8,555.6L575.0,553.4L573.2,555.6" stroke="#fff" stroke-opacity="0.7" stroke-width="1.1" fill="none"/><path d="M569,545 L569,520 Q569,512 576,508 L598,496 Q604,493 610,497 L641,518 Q650,526 660,521 L752,470 Q760,465 757,455 L744,447" stroke="#2a74bc" stroke-width="6.5" fill="none" stroke-linejoin="round"/><path d="M567.2,540.0L569.0,542.2L570.8,540.0M567.2,532.0L569.0,534.2L570.8,532.0M567.2,524.0L569.0,526.2L570.8,524.0M567.7,515.6L569.0,518.2L571.2,516.4M572.6,508.1L572.2,510.9L575.0,510.8M579.8,503.9L578.8,506.5L581.6,507.0M586.9,500.0L585.8,502.7L588.6,503.2M593.9,496.2L592.8,498.8L595.6,499.4M601.8,493.0L599.9,495.1L602.4,496.5M610.6,495.2L607.8,495.7L608.8,498.3M617.3,499.8L614.5,500.0L615.3,502.8M623.9,504.3L621.1,504.5L621.9,507.2M630.6,508.8L627.7,509.0L628.5,511.7M637.2,513.2L634.4,513.5L635.2,516.2M643.8,518.0L640.9,518.0L641.6,520.8M650.3,520.9L647.7,522.2L649.5,524.4M657.2,520.3L655.7,522.6L658.3,523.7M664.0,516.7L662.9,519.4L665.7,519.9M671.0,512.9L669.9,515.5L672.7,516.0M678.0,509.0L676.9,511.6L679.7,512.1M685.0,505.1L683.9,507.7L686.7,508.2M692.0,501.2L690.9,503.9L693.7,504.4M699.0,497.3L697.9,500.0L700.7,500.5M706.0,493.5L704.9,496.1L707.7,496.6M713.0,489.6L711.9,492.2L714.7,492.7M720.0,485.7L718.9,488.3L721.7,488.8M727.0,481.8L725.9,484.5L728.7,485.0M734.0,477.9L732.9,480.6L735.7,481.1M741.0,474.1L739.9,476.7L742.7,477.2M748.0,470.2L746.9,472.8L749.7,473.3M754.0,466.0L753.8,468.8L756.6,468.4M756.0,459.7L757.8,462.0L759.6,459.8M753.4,454.9L756.2,454.5L755.3,451.8M746.6,450.7L749.4,450.3L748.5,447.6" stroke="#fff" stroke-opacity="0.7" stroke-width="1.1" fill="none"/><path d="M700,588 L756,556 Q764,551 760,544 L746,537" stroke="#74c3de" stroke-width="6.5" fill="none" stroke-linejoin="round"/><path d="M703.5,588.1L704.5,585.4L701.7,584.9M710.4,584.1L711.5,581.5L708.7,581.0M717.4,580.1L718.4,577.5L715.6,577.0M724.3,576.2L725.4,573.5L722.5,573.0M731.3,572.2L732.3,569.5L729.5,569.1M738.2,568.2L739.2,565.6L736.4,565.1M745.2,564.3L746.2,561.6L743.4,561.1M752.1,560.3L753.1,557.6L750.3,557.2M759.4,555.8L759.6,553.0L756.8,553.4M763.1,547.0L760.7,545.5L759.7,548.1M757.1,540.5L754.3,541.2L755.5,543.8M749.9,537.0L747.2,537.6L748.3,540.2" stroke="#fff" stroke-opacity="0.7" stroke-width="1.1" fill="none"/>
  <!-- copper coil -->
  <path d="M600,496 L676,538 Q680,540 680,545 L680,583" stroke="#c48a66" stroke-width="3" fill="none"/><path d="M600,495 L676,537 Q679,539 679,544 L679,583" stroke="#e3b898" stroke-width="0.8" fill="none"/>
  <g stroke="#c88a63" stroke-width="3" fill="none"><ellipse cx="604" cy="502.0" rx="3.2" ry="6.5"/><ellipse cx="611" cy="505.9" rx="3.2" ry="6.5"/><ellipse cx="618" cy="509.8" rx="3.2" ry="6.5"/><ellipse cx="625" cy="513.7" rx="3.2" ry="6.5"/><ellipse cx="632" cy="517.6" rx="3.2" ry="6.5"/><ellipse cx="639" cy="521.5" rx="3.2" ry="6.5"/></g>
  <!-- expansion valve -->
  <polygon points="668,596 692,596 692,613 686,627 675,627 668,613" fill="#d3bc86"/>
  <polygon points="680,596 692,596 692,613 686,627 680,627" fill="#c4ab72"/>
  <line x1="668" y1="609" x2="692" y2="609" stroke="#b59a62" stroke-width="1.5"/>
  <polygon points="690,590 702,585 704,592 690,598" fill="#cdb47d"/>
  <ellipse cx="680" cy="589" rx="15.5" ry="8.5" fill="url(#valveg)"/>
  <line x1="680" y1="560" x2="680" y2="587" stroke="#c48a66" stroke-width="3"/>
</g>
<g id="pipelabels" style="font-family:'Liberation Sans',sans-serif;font-weight:bold;stroke-width:0.35">
  <text transform="translate(321,426) rotate(-30)" fill="#f0872b" stroke="#f0872b" font-size="13" textLength="41" lengthAdjust="spacingAndGlyphs">LIQUID</text>
  <path d="M358.0,405.0L368.3,398.8" stroke="#f0872b" stroke-width="2.6"/><polygon points="373.0,396.0 370.2,402.1 366.3,395.6" fill="#f0872b"/>
  <text transform="translate(488.5,482) rotate(-90)" fill="#f0872b" stroke="#f0872b" font-size="13" textLength="39" lengthAdjust="spacingAndGlyphs">LIQUID</text>
  <path d="M481.0,486.0L481.0,495.5" stroke="#f0872b" stroke-width="2.6"/><polygon points="481.0,501.0 477.2,495.5 484.8,495.5" fill="#f0872b"/>
  <text transform="translate(616,630) rotate(28)" fill="#f0872b" stroke="#f0872b" font-size="13.5" textLength="40" lengthAdjust="spacingAndGlyphs">LIQUID</text>
  <path d="M655.0,644.0L664.2,649.3" stroke="#f0872b" stroke-width="2.6"/><polygon points="669.0,652.0 662.3,652.6 666.1,646.0" fill="#f0872b"/>
  <text transform="translate(720,599) rotate(-30)" fill="#6fc0dc" stroke="#6fc0dc" font-size="13.5" textLength="41" lengthAdjust="spacingAndGlyphs">LIQUID</text>
  <path d="M755.0,574.0L764.2,568.7" stroke="#6fc0dc" stroke-width="2.6"/><polygon points="769.0,566.0 766.1,572.0 762.3,565.4" fill="#6fc0dc"/>
  <text transform="translate(467,574) rotate(-28)" fill="#cf1a22" stroke="#cf1a22" font-size="12.5" textLength="26" lengthAdjust="spacingAndGlyphs">GAS</text>
  <path d="M464.0,575.0L455.8,579.4" stroke="#cf1a22" stroke-width="2.6"/><polygon points="451.0,582.0 454.0,576.0 457.6,582.7" fill="#cf1a22"/>
  <text transform="translate(574,504) rotate(-27)" fill="#2a74bc" stroke="#2a74bc" font-size="12.5" textLength="26" lengthAdjust="spacingAndGlyphs">GAS</text>
  <path d="M570.0,505.0L561.8,509.4" stroke="#2a74bc" stroke-width="2.6"/><polygon points="557.0,512.0 560.0,506.0 563.6,512.7" fill="#2a74bc"/>
  <path d="M406.0,744.0L415.0,748.9" stroke="#f0872b" stroke-width="2.2"/><polygon points="419.0,751.0 413.5,751.7 416.6,746.0" fill="#f0872b"/>
</g>
<!-- FAN -->
<g id="fan">
  <!-- housing --><g transform="matrix(62.5,37.2,0,81.4,256.5,612.5)"><circle r="1" fill="#4c4f54"/></g><g transform="matrix(62.5,37.2,0,81.4,253.7,613.8)"><circle r="1" fill="#4c4f54"/></g><g transform="matrix(62.5,37.2,0,81.4,250.9,615.1)"><circle r="1" fill="#4c4f54"/></g><g transform="matrix(62.5,37.2,0,81.4,248.1,616.4)"><circle r="1" fill="#4c4f54"/></g><g transform="matrix(62.5,37.2,0,81.4,245.3,617.7)"><circle r="1" fill="#4c4f54"/></g><g transform="matrix(62.5,37.2,0,81.4,242.5,619.0)"><circle r="1" fill="#4c4f54"/></g><g transform="matrix(62.5,37.2,0,81.4,239.7,620.3)"><circle r="1" fill="#4c4f54"/></g><g transform="matrix(62.5,37.2,0,81.4,236.9,621.6)"><circle r="1" fill="#4c4f54"/></g><g transform="matrix(62.5,37.2,0,81.4,234.1,622.9)"><circle r="1" fill="#4c4f54"/></g><g transform="matrix(62.5,37.2,0,81.4,231.3,624.2)"><circle r="1" fill="#4c4f54"/></g>
  <g transform="matrix(62.5,37.2,0,81.4,228.5,625.5)"><circle r="1" fill="#a5b0b4"/><circle r="0.935" fill="#55585d"/><polygon points="0.691,-0.622 0.765,-0.529 0.826,-0.427 0.874,-0.318 0.907,-0.204 0.926,-0.086 0.929,0.032 0.350,0.012 0.348,-0.033 0.341,-0.077 0.329,-0.120 0.311,-0.161 0.288,-0.199 0.260,-0.234" fill="#6b4639"/><polygon points="-0.465,-0.805 -0.368,-0.854 -0.267,-0.891 -0.161,-0.916 -0.054,-0.928 0.054,-0.928 0.161,-0.916 0.061,-0.345 0.020,-0.349 -0.020,-0.349 -0.061,-0.345 -0.100,-0.335 -0.139,-0.321 -0.175,-0.303" fill="#6a4a40"/><polygon points="0.689,0.579 0.647,0.625 0.602,0.669 0.554,0.709 0.503,0.746 0.450,0.779 0.395,0.809 0.219,0.449 0.250,0.433 0.280,0.415 0.308,0.394 0.335,0.372 0.360,0.347 0.383,0.321" fill="#f2f2f2"/><polygon points="-0.869,-0.233 -0.829,-0.349 -0.774,-0.459 -0.704,-0.560 -0.621,-0.651 -0.527,-0.730 -0.423,-0.795 -0.185,-0.236 -0.215,-0.209 -0.242,-0.178 -0.264,-0.143 -0.281,-0.106 -0.293,-0.067 -0.299,-0.026" fill="#8b8c90"/><polygon points="0.125,-0.891 0.233,-0.869 0.337,-0.834 0.436,-0.787 0.529,-0.728 0.614,-0.658 0.689,-0.579 0.193,-0.230 0.163,-0.252 0.132,-0.270 0.098,-0.284 0.062,-0.293 0.026,-0.299 -0.010,-0.300" fill="#6e6f74"/><polygon points="0.899,-0.031 0.897,0.068 0.884,0.167 0.861,0.263 0.826,0.356 0.782,0.445 0.728,0.529 0.270,0.132 0.282,0.101 0.292,0.069 0.298,0.037 0.300,0.003 0.299,-0.030 0.293,-0.062" fill="#77787d"/><polygon points="0.278,0.856 0.177,0.882 0.073,0.897 -0.031,0.899 -0.136,0.890 -0.238,0.868 -0.337,0.834 -0.062,0.293 -0.028,0.299 0.007,0.300 0.042,0.297 0.076,0.290 0.109,0.279 0.141,0.265" fill="#5a5556"/><polygon points="-0.636,0.636 -0.701,0.564 -0.758,0.486 -0.805,0.402 -0.844,0.313 -0.873,0.220 -0.891,0.125 -0.285,0.093 -0.274,0.123 -0.259,0.152 -0.241,0.178 -0.221,0.203 -0.197,0.226 -0.172,0.246" fill="#5e5253"/><polygon points="-0.303,-0.879 -0.277,-0.888 -0.251,-0.895 -0.225,-0.902 -0.199,-0.909 -0.172,-0.914 -0.145,-0.919 -0.047,-0.296 -0.056,-0.295 -0.064,-0.293 -0.073,-0.291 -0.081,-0.289 -0.089,-0.286 -0.098,-0.284" fill="#53575c"/><polygon points="0.843,-0.393 0.854,-0.368 0.864,-0.343 0.874,-0.318 0.883,-0.293 0.891,-0.267 0.898,-0.241 0.290,-0.078 0.287,-0.086 0.285,-0.094 0.282,-0.103 0.279,-0.111 0.275,-0.119 0.272,-0.127" fill="#50545a"/><polygon points="-0.241,0.898 -0.267,0.891 -0.293,0.883 -0.318,0.874 -0.343,0.864 -0.368,0.854 -0.393,0.843 -0.127,0.272 -0.119,0.275 -0.111,0.279 -0.103,0.282 -0.094,0.285 -0.086,0.287 -0.078,0.290" fill="#4f5358"/><polygon points="-0.926,-0.081 -0.924,-0.108 -0.920,-0.135 -0.916,-0.161 -0.911,-0.188 -0.905,-0.214 -0.898,-0.241 -0.290,-0.078 -0.292,-0.069 -0.294,-0.061 -0.295,-0.052 -0.297,-0.043 -0.298,-0.035 -0.299,-0.026" fill="#52565b"/><circle r="0.42" cx="-0.08" cy="0" fill="#4b5055"/><circle r="0.36" cx="-0.1" cy="0.02" fill="#52575c"/></g>
</g>

<!-- AIR ARROW -->
<g id="air">
  <path d="M54,716 C95,700 125,690 147,674 L124,661 L205,634 L209,707 L180,692 C160,715 130,735 102,745 Z" fill="url(#airg)"/>
  <text x="0" y="0" transform="translate(158,663) rotate(27.7)" style="font-family:'Liberation Sans',sans-serif;font-weight:bold;font-size:21px;fill:#e6ecf2;stroke:#e6ecf2;stroke-width:0.6" textLength="44" lengthAdjust="spacingAndGlyphs">AIR</text>
</g>


<!-- LABELS -->
<g id="labels">
  <text class="lbl" x="110" y="360" textLength="77" lengthAdjust="spacingAndGlyphs">RADIATOR</text>
  <path class="ln" d="M110,363 H191 V420"/>
  <text class="lbl" x="256" y="332" textLength="147" lengthAdjust="spacingAndGlyphs">PRESSURE SWITCH</text>
  <path class="ln" d="M256,335 H403 V350"/>
  <text class="lbl" x="250" y="376" textLength="124" lengthAdjust="spacingAndGlyphs">RECEIVER DRIER</text>
  <path class="ln" d="M250,379 H383 V392"/>
  <text class="lbl" x="484" y="318.5" textLength="102" lengthAdjust="spacingAndGlyphs">EVAPORATOR</text>
  <path class="ln" d="M484,322 H590 V341"/>
  <text class="lbl" x="832" y="400" textLength="127" lengthAdjust="spacingAndGlyphs">BLOWER MOTOR</text>
  <path class="ln" d="M960,403 H832 V422"/>
  <text class="lbl" x="720" y="618" textLength="141" lengthAdjust="spacingAndGlyphs">EXPANSION VALVE</text>
  <path class="ln" d="M687,621 H861"/>
  <text class="lbl" x="482.5" y="695" textLength="108.5" lengthAdjust="spacingAndGlyphs">COMPRESSOR</text>
  <path class="ln" d="M482,697.5 H599 V631"/>
  <text class="lbl" x="254.5" y="756" textLength="29.5" lengthAdjust="spacingAndGlyphs">FAN</text>
  <path class="ln" d="M254,759.5 H303 V695"/>
  <text class="lbl" x="254" y="806" textLength="97" lengthAdjust="spacingAndGlyphs">CONDENSER</text>
  <path class="ln" d="M254,809.5 H364 V728"/>
</g>

<!-- COLD AIR -->
<text x="808.5" y="298.5" textLength="122" lengthAdjust="spacingAndGlyphs" style="font-family:'Liberation Sans',sans-serif;font-weight:bold;font-size:22.5px;fill:#3a7fc3;stroke:#3a7fc3;stroke-width:1">COLD AIR</text>

<!-- LEGEND -->
<g id="legend">
  <rect x="709" y="659" width="17" height="13" fill="#c8151e"/>
  <rect x="709" y="684.5" width="17" height="13" fill="#f08a2c"/>
  <rect x="709" y="710" width="17" height="13" fill="#79c4de"/>
  <rect x="709" y="735.5" width="17" height="13" fill="#2a72b7"/>
  <text class="leg" x="731" y="670.5" textLength="148" lengthAdjust="spacingAndGlyphs">High pressure line - gas</text>
  <text class="leg" x="731" y="696" textLength="162" lengthAdjust="spacingAndGlyphs">High pressure line - liquid</text>
  <text class="leg" x="731" y="721.5" textLength="158" lengthAdjust="spacingAndGlyphs">Low pressure line - liquid</text>
  <text class="leg" x="731" y="747" textLength="147" lengthAdjust="spacingAndGlyphs">Low pressure line -  gas</text>
</g>
</svg>
</body></html>
